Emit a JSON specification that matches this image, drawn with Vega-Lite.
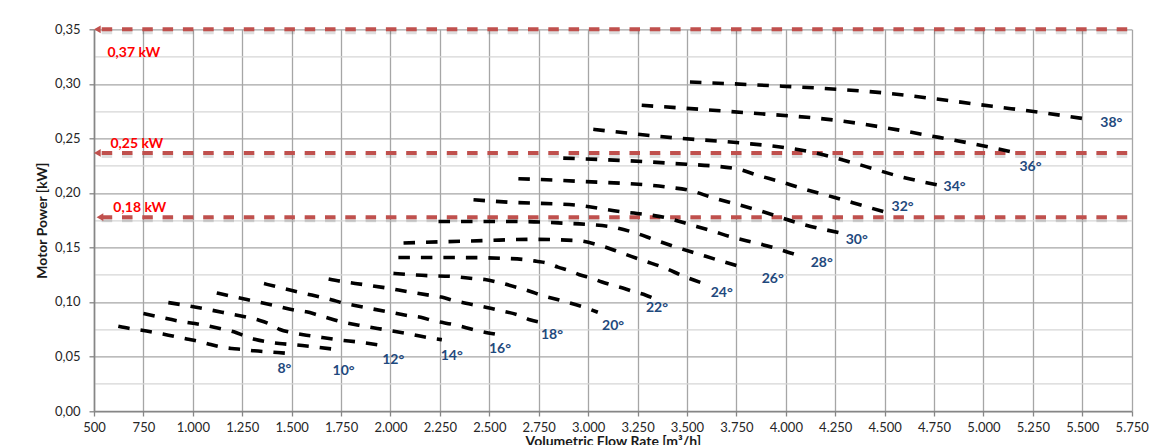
{
  "$schema": "https://vega.github.io/schema/vega-lite/v6.json",
  "width": 1037.7,
  "height": 381.7,
  "autosize": {"type": "none"},
  "padding": {"left": 94, "top": 29.3, "right": 28.3, "bottom": 34},
  "background": "white",
  "config": {"view": {"stroke": null}, "font": "Lato"},
  "datasets": {
    "curves": [
      {"a":8,"f":623,"p":0.0777},{"a":8,"f":683,"p":0.0756},{"a":8,"f":742,"p":0.0741},{"a":8,"f":854,"p":0.0704},{"a":8,"f":969,"p":0.0661},{"a":8,"f":1028,"p":0.064},{"a":8,"f":1084,"p":0.0613},{"a":8,"f":1138,"p":0.0588},{"a":8,"f":1197,"p":0.0573},{"a":8,"f":1256,"p":0.0564},{"a":8,"f":1311,"p":0.0552},{"a":8,"f":1429,"p":0.0536},{"a":8,"f":1488,"p":0.0527},
      {"a":10,"f":750,"p":0.0893},{"a":10,"f":812,"p":0.0869},{"a":10,"f":924,"p":0.0826},{"a":10,"f":1040,"p":0.0793},{"a":10,"f":1151,"p":0.075},{"a":10,"f":1208,"p":0.0726},{"a":10,"f":1264,"p":0.0686},{"a":10,"f":1318,"p":0.0655},{"a":10,"f":1377,"p":0.0634},{"a":10,"f":1438,"p":0.0619},{"a":10,"f":1495,"p":0.061},{"a":10,"f":1554,"p":0.06},{"a":10,"f":1612,"p":0.0588},{"a":10,"f":1727,"p":0.0564},
      {"a":12,"f":876,"p":0.0994},{"a":12,"f":939,"p":0.0976},{"a":12,"f":1053,"p":0.0939},{"a":12,"f":1166,"p":0.0899},{"a":12,"f":1281,"p":0.0857},{"a":12,"f":1335,"p":0.0832},{"a":12,"f":1391,"p":0.0796},{"a":12,"f":1441,"p":0.0747},{"a":12,"f":1500,"p":0.0719},{"a":12,"f":1559,"p":0.0699},{"a":12,"f":1616,"p":0.0684},{"a":12,"f":1730,"p":0.0654},{"a":12,"f":1847,"p":0.063},{"a":12,"f":1961,"p":0.06},
      {"a":14,"f":1121,"p":0.1082},{"a":14,"f":1180,"p":0.1058},{"a":14,"f":1290,"p":0.1015},{"a":14,"f":1407,"p":0.097},{"a":14,"f":1517,"p":0.0924},{"a":14,"f":1575,"p":0.091},{"a":14,"f":1633,"p":0.088},{"a":14,"f":1688,"p":0.085},{"a":14,"f":1747,"p":0.082},{"a":14,"f":1861,"p":0.078},{"a":14,"f":1977,"p":0.0744},{"a":14,"f":2091,"p":0.0708},{"a":14,"f":2200,"p":0.0669},{"a":14,"f":2260,"p":0.0654},
      {"a":16,"f":1360,"p":0.1168},{"a":16,"f":1416,"p":0.1143},{"a":16,"f":1529,"p":0.1092},{"a":16,"f":1587,"p":0.1069},{"a":16,"f":1646,"p":0.1045},{"a":16,"f":1700,"p":0.1021},{"a":16,"f":1758,"p":0.0991},{"a":16,"f":1814,"p":0.097},{"a":16,"f":1872,"p":0.0949},{"a":16,"f":1985,"p":0.091},{"a":16,"f":2092,"p":0.0874},{"a":16,"f":2153,"p":0.0859},{"a":16,"f":2213,"p":0.0829},{"a":16,"f":2326,"p":0.079},{"a":16,"f":2438,"p":0.0738},{"a":16,"f":2530,"p":0.0705},
      {"a":18,"f":1687,"p":0.1211},{"a":18,"f":1747,"p":0.119},{"a":18,"f":1861,"p":0.116},{"a":18,"f":1973,"p":0.113},{"a":18,"f":2091,"p":0.1093},{"a":18,"f":2203,"p":0.106},{"a":18,"f":2258,"p":0.1045},{"a":18,"f":2317,"p":0.1015},{"a":18,"f":2431,"p":0.097},{"a":18,"f":2487,"p":0.095},{"a":18,"f":2545,"p":0.0926},{"a":18,"f":2658,"p":0.0872},{"a":18,"f":2705,"p":0.0836},{"a":18,"f":2770,"p":0.081},
      {"a":20,"f":2015,"p":0.1262},{"a":20,"f":2191,"p":0.1241},{"a":20,"f":2305,"p":0.1235},{"a":20,"f":2423,"p":0.1214},{"a":20,"f":2478,"p":0.1205},{"a":20,"f":2537,"p":0.1183},{"a":20,"f":2649,"p":0.1129},{"a":20,"f":2705,"p":0.1098},{"a":20,"f":2763,"p":0.1062},{"a":20,"f":2873,"p":0.1008},{"a":20,"f":2987,"p":0.0947},{"a":20,"f":3049,"p":0.0905},
      {"a":22,"f":2040,"p":0.1407},{"a":22,"f":2250,"p":0.1407},{"a":22,"f":2448,"p":0.1406},{"a":22,"f":2562,"p":0.14},{"a":22,"f":2680,"p":0.1388},{"a":22,"f":2738,"p":0.1373},{"a":22,"f":2797,"p":0.1355},{"a":22,"f":2847,"p":0.1319},{"a":22,"f":2903,"p":0.1289},{"a":22,"f":2956,"p":0.125},{"a":22,"f":3015,"p":0.122},{"a":22,"f":3070,"p":0.1183},{"a":22,"f":3124,"p":0.1153},{"a":22,"f":3183,"p":0.1123},{"a":22,"f":3233,"p":0.1093},{"a":22,"f":3292,"p":0.1062},{"a":22,"f":3326,"p":0.1038},
      {"a":24,"f":2066,"p":0.1541},{"a":24,"f":2479,"p":0.1563},{"a":24,"f":2715,"p":0.1574},{"a":24,"f":2942,"p":0.1563},{"a":24,"f":3051,"p":0.1523},{"a":24,"f":3161,"p":0.1455},{"a":24,"f":3279,"p":0.1379},{"a":24,"f":3380,"p":0.1317},{"a":24,"f":3489,"p":0.1232},{"a":24,"f":3590,"p":0.1165},
      {"a":26,"f":2243,"p":0.1737},{"a":26,"f":2656,"p":0.1737},{"a":26,"f":2883,"p":0.1722},{"a":26,"f":3001,"p":0.171},{"a":26,"f":3110,"p":0.1691},{"a":26,"f":3228,"p":0.1639},{"a":26,"f":3338,"p":0.1569},{"a":26,"f":3448,"p":0.1501},{"a":26,"f":3557,"p":0.144},{"a":26,"f":3666,"p":0.1379},{"a":26,"f":3781,"p":0.1317},
      {"a":28,"f":2420,"p":0.1937},{"a":28,"f":2596,"p":0.1915},{"a":28,"f":2942,"p":0.1887},{"a":28,"f":3161,"p":0.1829},{"a":28,"f":3280,"p":0.1805},{"a":28,"f":3400,"p":0.177},{"a":28,"f":3515,"p":0.171},{"a":28,"f":3620,"p":0.1655},{"a":28,"f":3731,"p":0.1593},{"a":28,"f":3850,"p":0.154},{"a":28,"f":3961,"p":0.1486},{"a":28,"f":4079,"p":0.1415},
      {"a":30,"f":2647,"p":0.213},{"a":30,"f":2934,"p":0.2108},{"a":30,"f":3405,"p":0.2052},{"a":30,"f":3515,"p":0.2022},{"a":30,"f":3624,"p":0.196},{"a":30,"f":3852,"p":0.1845},{"a":30,"f":4079,"p":0.1716},{"a":30,"f":4298,"p":0.1624},
      {"a":32,"f":2874,"p":0.2319},{"a":32,"f":3405,"p":0.2273},{"a":32,"f":3747,"p":0.2222},{"a":32,"f":3860,"p":0.216},{"a":32,"f":3969,"p":0.2105},{"a":32,"f":4079,"p":0.2043},{"a":32,"f":4247,"p":0.1958},{"a":32,"f":4416,"p":0.1869},{"a":32,"f":4534,"p":0.1808},
      {"a":34,"f":3026,"p":0.2583},{"a":34,"f":3430,"p":0.2506},{"a":34,"f":3781,"p":0.2457},{"a":34,"f":4012,"p":0.2411},{"a":34,"f":4130,"p":0.2374},{"a":34,"f":4357,"p":0.2267},{"a":34,"f":4576,"p":0.2151},{"a":34,"f":4803,"p":0.2059},
      {"a":36,"f":3271,"p":0.2803},{"a":36,"f":3793,"p":0.2736},{"a":36,"f":4256,"p":0.2665},{"a":36,"f":4601,"p":0.2567},{"a":36,"f":4718,"p":0.2528},{"a":36,"f":4945,"p":0.2451},{"a":36,"f":5157,"p":0.2371},
      {"a":38,"f":3515,"p":0.3017},{"a":38,"f":3919,"p":0.2984},{"a":38,"f":4263,"p":0.295},{"a":38,"f":4500,"p":0.2916},{"a":38,"f":4813,"p":0.2849},{"a":38,"f":5045,"p":0.2794},{"a":38,"f":5283,"p":0.2739},{"a":38,"f":5536,"p":0.2673}
    ],
    "refs": [
      {"f":500,"f2":5750,"p":0.35},
      {"f":500,"f2":5750,"p":0.2366},
      {"f":500,"f2":5750,"p":0.1777}
    ],
    "arrows": [
      {"f":517,"p":0.35},
      {"f":517,"p":0.2366},
      {"f":530,"p":0.1777}
    ],
    "reflabels": [
      {"f":568,"p":0.3284,"t":"0,37 kW"},
      {"f":583,"p":0.2451,"t":"0,25 kW"},
      {"f":598,"p":0.1863,"t":"0,18 kW"}
    ],
    "anglabels": [
      {"f":1463,"p":0.0386,"t":"8°"},
      {"f":1763,"p":0.0368,"t":"10°"},
      {"f":2014,"p":0.0469,"t":"12°"},
      {"f":2310,"p":0.0506,"t":"14°"},
      {"f":2554,"p":0.057,"t":"16°"},
      {"f":2817,"p":0.0699,"t":"18°"},
      {"f":3126,"p":0.0781,"t":"20°"},
      {"f":3348,"p":0.0947,"t":"22°"},
      {"f":3676,"p":0.1085,"t":"24°"},
      {"f":3934,"p":0.1213,"t":"26°"},
      {"f":4182,"p":0.136,"t":"28°"},
      {"f":4359,"p":0.1572,"t":"30°"},
      {"f":4591,"p":0.1866,"t":"32°"},
      {"f":4854,"p":0.205,"t":"34°"},
      {"f":5238,"p":0.2233,"t":"36°"},
      {"f":5647,"p":0.2638,"t":"38°"}
    ]
  },
  "encoding": {
    "x": {
      "field": "f",
      "type": "quantitative",
      "scale": {"domain": [500, 5750], "nice": false, "zero": false},
      "axis": {
        "title": "Volumetric Flow Rate [m³/h]",
        "values": [500,750,1000,1250,1500,1750,2000,2250,2500,2750,3000,3250,3500,3750,4000,4250,4500,4750,5000,5250,5500,5750],
        "labelExpr": "replace(format(datum.value, ','), ',', '.')",
        "grid": true,
        "gridColor": "#A6A6A6",
        "gridWidth": 1.3,
        "domainColor": "#868686",
        "domainWidth": 1.6,
        "tickColor": "#868686",
        "tickWidth": 1.3,
        "tickSize": 5,
        "labelFont": "Lato",
        "labelFontSize": 13,
        "labelColor": "#262626",
        "labelPadding": 5,
        "labelFlush": false,
        "labelOverlap": false,
        "titleFont": "Lato",
        "titleFontSize": 14,
        "titleFontWeight": "bold",
        "titleColor": "#1a1a1a",
        "titleBaseline": "alphabetic",
        "titleY": 34
      }
    },
    "y": {
      "field": "p",
      "type": "quantitative",
      "scale": {"domain": [0, 0.35], "nice": false, "zero": true},
      "axis": {
        "title": "Motor Power [kW]",
        "values": [0,0.025,0.05,0.075,0.1,0.125,0.15,0.175,0.2,0.225,0.25,0.275,0.3,0.325,0.35],
        "labelExpr": "round(datum.value*1000) % 50 == 0 ? replace(format(datum.value, '.2f'), '.', ',') : ''",
        "grid": true,
        "gridColor": {"condition": {"test": "round(datum.value*1000) % 50 == 0", "value": "#A6A6A6"}, "value": "#D6D6D6"},
        "gridWidth": 1.3,
        "domainColor": "#868686",
        "domainWidth": 1.6,
        "tickColor": "#868686",
        "tickOpacity": {"condition": {"test": "round(datum.value*1000) % 50 == 0", "value": 1}, "value": 0},
        "tickWidth": 1.3,
        "tickSize": 5,
        "labelFont": "Lato",
        "labelFontSize": 13,
        "labelColor": "#262626",
        "labelPadding": 9,
        "labelFlush": false,
        "labelOverlap": false,
        "titleFont": "Lato",
        "titleFontSize": 14,
        "titleFontWeight": "bold",
        "titleColor": "#1a1a1a",
        "titleBaseline": "middle",
        "titleX": -52
      }
    }
  },
  "layer": [
    {
      "data": {"name": "refs"},
      "mark": {"type": "rule", "color": "#000000", "opacity": 0.13, "strokeWidth": 5, "yOffset": 2.5, "strokeDash": [10.5, 9.8], "strokeDashOffset": 12.6},
      "encoding": {"x2": {"field": "f2"}}
    },
    {
      "data": {"name": "refs"},
      "mark": {"type": "rule", "color": "#C0504D", "strokeWidth": 4, "strokeDash": [10.5, 9.8], "strokeDashOffset": 12.6},
      "encoding": {"x2": {"field": "f2"}}
    },
    {
      "data": {"name": "arrows"},
      "mark": {"type": "point", "shape": "triangle-left", "filled": true, "color": "#C0504D", "opacity": 1, "size": 60}
    },
    {
      "data": {"name": "reflabels"},
      "mark": {"type": "text", "align": "left", "baseline": "middle", "font": "Lato", "fontSize": 14, "fontWeight": "bold", "color": "#FF0000"},
      "encoding": {"text": {"field": "t"}}
    },
    {
      "data": {"name": "curves"},
      "mark": {"type": "line", "interpolate": "monotone", "color": "#000000", "strokeWidth": 3.6, "strokeDash": [11.5, 11], "strokeCap": "butt"},
      "encoding": {"detail": {"field": "a"}}
    },
    {
      "data": {"name": "anglabels"},
      "mark": {"type": "text", "align": "center", "baseline": "middle", "font": "Lato", "fontSize": 14, "fontWeight": "bold", "color": "#1F497D"},
      "encoding": {"text": {"field": "t"}}
    }
  ]
}
